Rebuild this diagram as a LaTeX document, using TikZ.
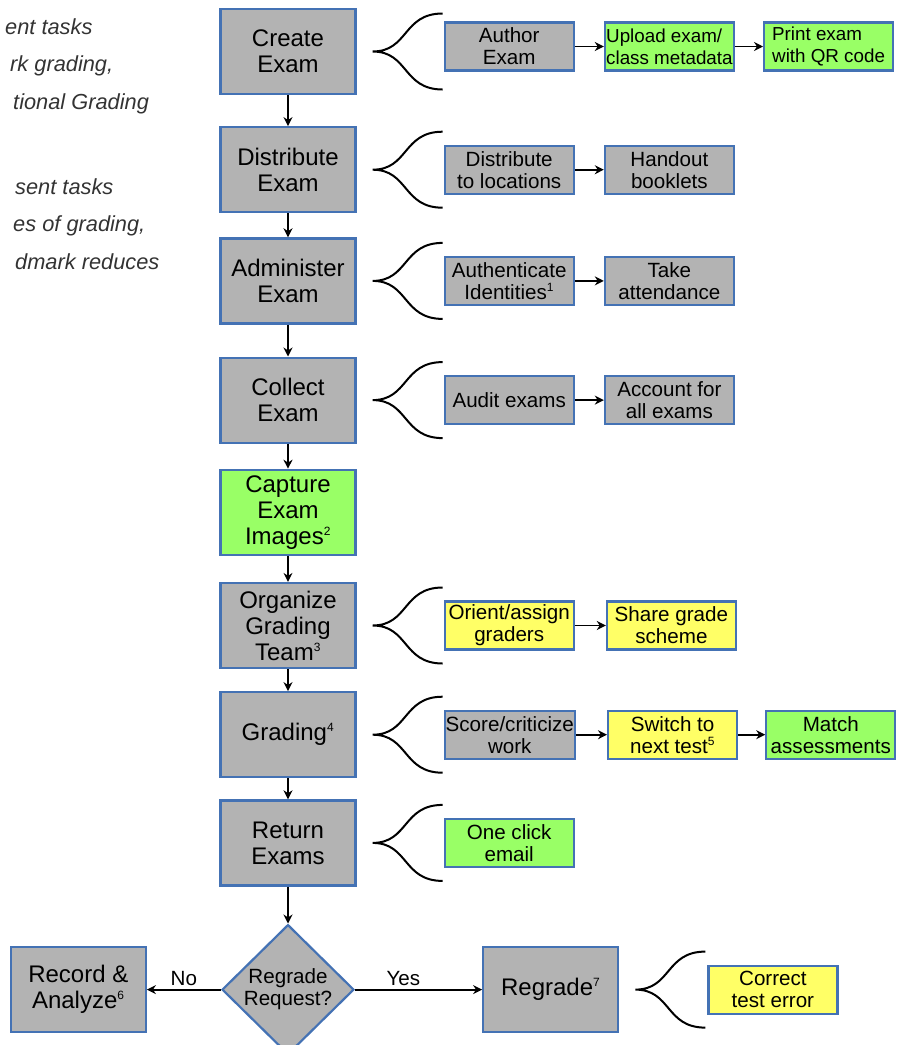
\documentclass[tikz,border=0pt]{standalone}
\usepackage{fontspec}
\setmainfont{Liberation Sans}
\usetikzlibrary{positioning,shapes.geometric,arrows.meta,calc}
\definecolor{boxgray}{HTML}{B3B3B3}
\definecolor{boxblue}{HTML}{4472B4}
\definecolor{boxgreen}{HTML}{99FF66}
\definecolor{boxyellow}{HTML}{FFFF66}
\definecolor{notegray}{HTML}{333333}
\newcommand{\supnum}[1]{\textsuperscript{\fontsize{12}{12}\selectfont #1}}

\begin{document}
\begin{tikzpicture}[
    x=1pt, y=-1pt,
    stage/.style={rectangle, draw=boxblue, line width=2.2pt, fill=boxgray, minimum width=135pt, minimum height=85pt, inner sep=1pt, align=center, font=\fontsize{24}{26}\selectfont},
    task/.style={rectangle, draw=boxblue, line width=2.2pt, fill=boxgray, minimum width=129pt, minimum height=48pt, inner sep=1pt, align=center, font=\fontsize{20.6}{22}\selectfont},
    automated/.style={fill=boxgreen},
    assisted/.style={fill=boxyellow},
    decision/.style={diamond, draw=boxblue, line width=2.2pt, fill=boxgray, minimum width=132pt, minimum height=130pt, inner sep=0pt, align=center, font=\fontsize{20.6}{22}\selectfont},
    note/.style={inner sep=0pt, anchor=base west, text=notegray, font=\fontsize{21.8}{24}\selectfont\itshape},
    arrow/.style={line width=1.8pt, ->, >={Stealth[length=9pt, width=9pt]}},
    bracket/.style={line width=2pt}
]
    \useasboundingbox (0,0) rectangle (899,1045);
    \clip (0,0) rectangle (899,1045);

    % Texto recortado a la izquierda
    \node[note] (note1) at (5,34) {ent tasks};
    \node[note] (note2) at (10,71.5) {rk grading,};
    \node[note] (note3) at (13,109) {tional Grading};
    \node[note] (note4) at (15,194) {sent tasks};
    \node[note] (note5) at (13,231.5) {es of grading,};
    \node[note] (note6) at (15,269) {dmark reduces};

    % Etapas principales
    \node[stage] (create) at (288,51.5) {Create\\Exam};
    \node[stage, below=31pt of create] (distribute) {Distribute\\Exam};
    \node[stage, below=24pt of distribute] (administer) {Administer\\Exam};
    \node[stage, below=32pt of administer] (collect) {Collect\\Exam};
    \node[stage, automated, below=25pt of collect] (capture) {Capture\\Exam\\Images\supnum{2}};
    \node[stage, below=26pt of capture] (organize) {Organize\\Grading\\Team\supnum{3}};
    \node[stage, below=22pt of organize] (grading) {Grading\supnum{4}};
    \node[stage, below=21pt of grading] (return) {Return\\Exams};
    \node[decision, below=37pt of return] (regq) {Regrade\\Request?};
    \node[stage, left=74pt of regq] (record) {Record \&\\Analyze\supnum{6}};
    \node[stage, right=127pt of regq] (regrade) {Regrade\supnum{7}};

    % Subtareas
    \node[task, right=87pt of create, yshift=5pt] (author) {Author\\Exam};
    \node[task, automated, right=29pt of author, align=left, font=\fontsize{18.8}{22}\selectfont] (upload) {Upload exam/\\class metadata};
    \node[task, automated, right=28pt of upload, align=left, font=\fontsize{18.8}{22}\selectfont] (print) {Print exam\\with QR code};
    \node[task, right=87pt of distribute] (locations) {Distribute\\to locations};
    \node[task, right=29pt of locations] (handout) {Handout\\booklets};
    \node[task, right=87pt of administer] (authenticate) {Authenticate\\Identities\supnum{1}};
    \node[task, right=29pt of authenticate] (attendance) {Take\\attendance};
    \node[task, right=87pt of collect] (audit) {Audit exams};
    \node[task, right=29pt of audit] (account) {Account for\\all exams};
    \node[task, assisted, right=87pt of organize] (orient) {Orient/assign\\graders};
    \node[task, assisted, right=31pt of orient] (scheme) {Share grade\\scheme};
    \node[task, right=87pt of grading] (score) {Score/criticize\\work};
    \node[task, assisted, right=31pt of score] (switch) {Switch to\\next test\supnum{5}};
    \node[task, automated, right=27pt of switch] (match) {Match\\assessments};
    \node[task, automated, right=87pt of return] (email) {One click\\email};
    \node[task, assisted, right=88pt of regrade] (correct) {Correct\\test error};

    % Flujo principal
    \draw[arrow] (create) -- (distribute);
    \draw[arrow] (distribute) -- (administer);
    \draw[arrow] (administer) -- (collect);
    \draw[arrow] (collect) -- (capture);
    \draw[arrow] (capture) -- (organize);
    \draw[arrow] (organize) -- (grading);
    \draw[arrow] (grading) -- (return);
    \draw[arrow] (return) -- (regq);
    \draw[arrow] (regq) -- (record) node[midway, above, font=\fontsize{20.6}{22}\selectfont] {No};
    \draw[arrow] (regq) -- (regrade) node[pos=0.38, above, font=\fontsize{20.6}{22}\selectfont] {Yes};

    % Flechas entre subtareas
    \draw[arrow] (author) -- (upload);
    \draw[arrow] (upload) -- (print);
    \draw[arrow] (locations) -- (handout);
    \draw[arrow] (authenticate) -- (attendance);
    \draw[arrow] (audit) -- (account);
    \draw[arrow] (orient) -- (scheme);
    \draw[arrow] (score) -- (switch);
    \draw[arrow] (switch) -- (match);

    % Llaves
    \foreach \n in {create,distribute,administer,collect,organize,grading,return,regrade}
        \draw[bracket] ($(\n.east)+(86,-38)$) .. controls ($(\n.east)+(46,-38)$) and ($(\n.east)+(52,0)$) .. ($(\n.east)+(16,0)$)
            .. controls ($(\n.east)+(52,0)$) and ($(\n.east)+(46,38)$) .. ($(\n.east)+(86,38)$);
\end{tikzpicture}
\end{document}
